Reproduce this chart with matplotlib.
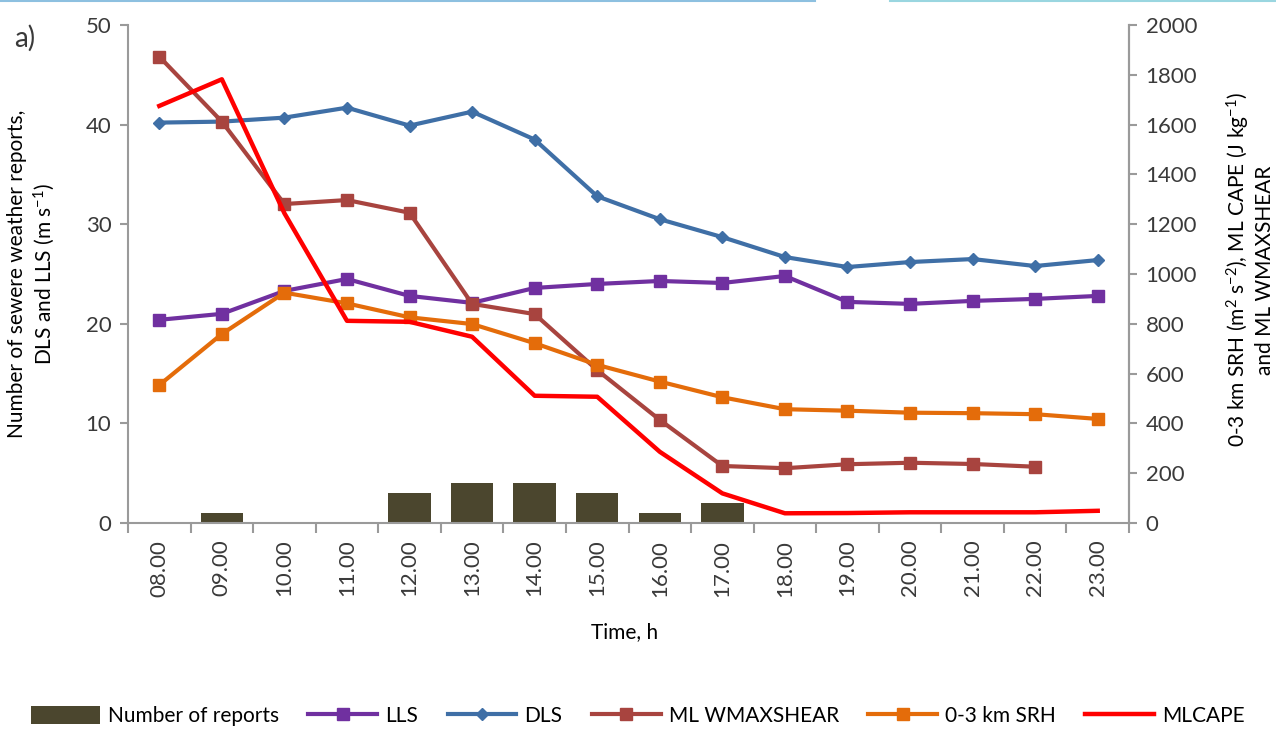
import matplotlib
matplotlib.use("Agg")
import matplotlib.pyplot as plt
from matplotlib.lines import Line2D
import numpy as np

plt.rcParams['font.family'] = ['Lato', 'DejaVu Sans']
plt.rcParams['mathtext.fontset'] = 'custom'
plt.rcParams['mathtext.rm'] = 'Lato'
plt.rcParams['mathtext.default'] = 'regular'

hours = ['08.00', '09.00', '10.00', '11.00', '12.00', '13.00', '14.00', '15.00',
         '16.00', '17.00', '18.00', '19.00', '20.00', '21.00', '22.00', '23.00']

reports = [0, 1, 0, 0, 3, 4, 4, 3, 1, 2, 0, 0, 0, 0, 0, 0]
lls = [20.4, 21.0, 23.3, 24.5, 22.8, 22.1, 23.6, 24.0, 24.3, 24.1, 24.8, 22.2,
       22.0, 22.3, 22.5, 22.8]
dls = [40.2, 40.3, 40.7, 41.7, 39.9, 41.3, 38.5, 32.8, 30.5, 28.7, 26.7, 25.7,
       26.2, 26.5, 25.8, 26.4]
wmaxshear = [1873, 1612, 1281, 1297, 1246, 880, 839, 614, 414, 229, 220, 236,
             242, 237, 226, np.nan]
srh = [554, 759, 925, 882, 826, 799, 722, 635, 568, 505, 457, 451, 443, 441,
       437, 418]
mlcape = [1675, 1782, 1244, 812, 808, 748, 511, 507, 286, 119, 39, 40, 43, 43,
          43, 49]

W, H = 1276, 730
fig = plt.figure(figsize=(W / 100, H / 100), dpi=100)
ax = fig.add_axes([128 / W, 1 - 523 / H, (1129 - 128) / W, (523 - 25) / H])
ax2 = ax.twinx()

x = np.arange(len(hours))
axis_grey = '#9a9a9a'
tick_col = '#3a3a3a'

bars = ax.bar(x, reports, width=0.68, color='#4b462e', label='Number of reports',
              zorder=2)
l_lls, = ax.plot(x, lls, color='#7030a0', lw=3, marker='s', ms=8,
                 label='LLS', zorder=3)
l_dls, = ax.plot(x, dls, color='#3f6fa6', lw=3, marker='D', ms=6.5,
                 label='DLS', zorder=3)
l_wmax, = ax2.plot(x, wmaxshear, color='#a8443f', lw=3, marker='s', ms=8,
                   label='ML WMAXSHEAR')
l_srh, = ax2.plot(x, srh, color='#e46c0a', lw=3, marker='s', ms=8,
                  label='0-3 km SRH')
l_cape, = ax2.plot(x, mlcape, color='#ff0000', lw=3.2, label='MLCAPE')

ax.set_xlim(-0.5, len(hours) - 0.5)
ax.set_ylim(0, 50)
ax2.set_ylim(0, 2000)
ax.set_yticks(np.arange(0, 51, 10))
ax2.set_yticks(np.arange(0, 2001, 200))

# category labels in the middle, tick marks on the boundaries
ax.set_xticks(x)
ax.set_xticklabels(hours, rotation=90)
ax.set_xticks(np.arange(-0.5, len(hours), 1), minor=True)
ax.tick_params(axis='x', which='major', length=0, pad=12, labelsize=16,
               labelcolor=tick_col)
ax.tick_params(axis='x', which='minor', length=7, width=1.5, color=axis_grey,
               direction='out')
ax.tick_params(axis='y', length=6, width=1.5, color=axis_grey, labelsize=16,
               labelcolor=tick_col, pad=6)
ax2.tick_params(axis='y', length=6, width=1.5, color=axis_grey, labelsize=16,
                labelcolor=tick_col, pad=6)

for a in (ax, ax2):
    a.spines['top'].set_visible(False)
    for s in ('left', 'right', 'bottom'):
        a.spines[s].set_color(axis_grey)
        a.spines[s].set_linewidth(1.5)
ax2.spines['left'].set_visible(False)
ax2.spines['bottom'].set_visible(False)

fig.text(32 / W, 1 - 274 / H,
         'Number of sewere weather reports,\nDLS and LLS (m s$^{-1}$)',
         rotation=90, ha='center', va='center', ma='center', fontsize=15)
fig.text(1250 / W, 1 - 270 / H,
         '0-3 km SRH (m$^2$ s$^{-2}$), ML CAPE (J kg$^{-1}$)\nand ML WMAXSHEAR',
         rotation=90, ha='center', va='center', ma='center', fontsize=15)
fig.text(625 / W, 1 - 632 / H, 'Time, h', ha='center', va='center', fontsize=15)
fig.text(14 / W, 1 - 38 / H, 'a)', ha='left', va='center', fontsize=20,
         color=tick_col)

fig.legend(handles=[bars, l_lls, l_dls, l_wmax, l_srh, l_cape],
           loc='center', bbox_to_anchor=(0.5, 1 - 716 / H), ncol=6,
           frameon=False, fontsize=15, handlelength=3.3, handleheight=1.0,
           columnspacing=1.4, handletextpad=0.4)

# thin page border along the top edge
fig.add_artist(Line2D([0, 815 / W], [0.998, 0.998], color='#8dc0e0', lw=1.5))
fig.add_artist(Line2D([890 / W, 1], [0.998, 0.998], color='#9ad6e0', lw=1.5))

fig.savefig('out.png', dpi=100)
